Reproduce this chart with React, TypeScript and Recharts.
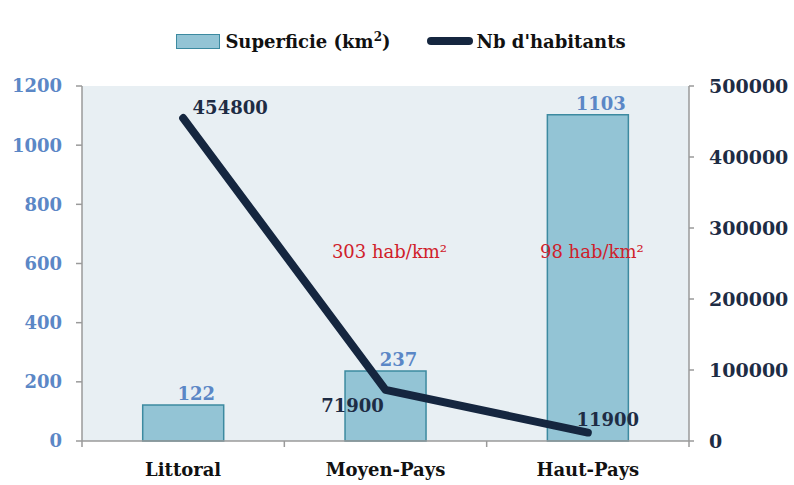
import React from 'react';
import { ComposedChart, Bar, Line, XAxis, YAxis, CartesianGrid, Legend, LabelList, ReferenceDot } from 'recharts';

const categories = ['Littoral', 'Moyen-Pays', 'Haut-Pays'];
const superficie = [122, 237, 1103];
const habitants = [454800, 71900, 11900];
const densityLabels = ['', '303 hab/km²', '98 hab/km²'];
const leftTicks = [0, 200, 400, 600, 800, 1000, 1200];
const rightTicks = [0, 100000, 200000, 300000, 400000, 500000];

const data = categories.map((name, i) => ({
  name,
  superficie: superficie[i],
  habitants: habitants[i],
}));

const FONT = '"DejaVu Serif", serif';
const BAR_FILL = '#93C4D5';
const BAR_STROKE = '#3C8AA0';
const LINE_COLOR = '#15263F';
const BLUE_TEXT = '#5B87C6';
const DARK_TEXT = '#1E2C44';
const AXIS = '#9A9A9A';

// plot is 607px wide, 3 categories
const BAND = 607 / 3;

// offsets of the population labels from their points (Excel placed them by hand)
const lineLabelOffsets = [
  { dx: 47, dy: -9 },
  { dx: -33, dy: 17 },
  { dx: 20, dy: -12 },
];

const CategoryTick = (props: any) => {
  const { x, y, payload, index } = props;
  return (
    <g>
      <line x1={x - BAND / 2} x2={x - BAND / 2} y1={y} y2={y + 6} stroke={AXIS} strokeWidth={1.5} />
      {index === categories.length - 1 && (
        <line x1={x + BAND / 2} x2={x + BAND / 2} y1={y} y2={y + 6} stroke={AXIS} strokeWidth={1.5} />
      )}
      <text x={x} y={y + 35} textAnchor="middle" fontFamily={FONT} fontWeight="bold" fontSize={18} fill="#111">
        {payload.value}
      </text>
    </g>
  );
};

const BarValueLabel = (props: any) => {
  const { x, y, width, value } = props;
  return (
    <text x={x + width / 2 + 13} y={y - 5} textAnchor="middle" fontFamily={FONT} fontWeight="bold" fontSize={18} fill={BLUE_TEXT}>
      {value}
    </text>
  );
};

const LineValueLabel = (props: any) => {
  const { x, y, value, index } = props;
  const off = lineLabelOffsets[index] || { dx: 0, dy: 0 };
  return (
    <text x={x + off.dx} y={y + off.dy} textAnchor="middle" dominantBaseline="middle" fontFamily={FONT} fontWeight="bold" fontSize={18} fill={DARK_TEXT}>
      {value}
    </text>
  );
};

const LegendContent = () => (
  <div style={{ display: 'flex', justifyContent: 'center', alignItems: 'center', fontFamily: FONT, fontWeight: 'bold', fontSize: 18, color: '#111', paddingLeft: 8 }}>
    <div style={{ width: 42, height: 13, background: BAR_FILL, border: `1px solid ${BAR_STROKE}`, marginRight: 5 }} />
    <span>Superficie (km<sup style={{ fontSize: 12 }}>2</sup>)</span>
    <div style={{ width: 46, height: 8, background: LINE_COLOR, borderRadius: 4, marginLeft: 36, marginRight: 4 }} />
    <span>Nb d'habitants</span>
  </div>
);

const App: React.FC = () => {
  return (
    <div style={{ position: 'absolute', left: 0, top: 0, background: '#fff' }}>
      <ComposedChart width={794} height={485} data={data} margin={{ top: 86, right: 0, bottom: 0, left: 0 }} barCategoryGap="30%">
        <CartesianGrid fill="#E8EFF3" stroke="none" horizontal={false} vertical={false} />
        <Legend
          layout="horizontal"
          verticalAlign="middle"
          align="center"
          wrapperStyle={{ top: 30, left: 0, width: 794 }}
          content={<LegendContent />}
        />
        <XAxis
          dataKey="name"
          height={44}
          axisLine={{ stroke: AXIS, strokeWidth: 1.5 }}
          tickLine={false}
          tickSize={0}
          tickMargin={0}
          tick={<CategoryTick />}
        />
        <YAxis
          yAxisId="left"
          width={82}
          domain={[0, 1200]}
          ticks={leftTicks}
          interval={0}
          axisLine={{ stroke: AXIS, strokeWidth: 1.5 }}
          tickLine={{ stroke: AXIS, strokeWidth: 1.5 }}
          tickSize={6}
          tickMargin={14}
          tick={{ fill: BLUE_TEXT, fontFamily: FONT, fontWeight: 'bold', fontSize: 18 }}
        />
        <YAxis
          yAxisId="right"
          orientation="right"
          width={105}
          domain={[0, 500000]}
          ticks={rightTicks}
          interval={0}
          axisLine={{ stroke: AXIS, strokeWidth: 1.5 }}
          tickLine={{ stroke: AXIS, strokeWidth: 1.5 }}
          tickSize={5}
          tickMargin={15}
          tick={{ fill: DARK_TEXT, fontFamily: FONT, fontWeight: 'bold', fontSize: 19 }}
        />
        <Bar
          yAxisId="left"
          dataKey="superficie"
          name="Superficie (km²)"
          fill={BAR_FILL}
          stroke={BAR_STROKE}
          strokeWidth={1.5}
          isAnimationActive={false}
        >
          <LabelList dataKey="superficie" content={<BarValueLabel />} />
        </Bar>
        <Line
          yAxisId="right"
          dataKey="habitants"
          name="Nb d'habitants"
          type="linear"
          stroke={LINE_COLOR}
          strokeWidth={8}
          strokeLinecap="round"
          strokeLinejoin="round"
          dot={false}
          isAnimationActive={false}
        >
          <LabelList dataKey="habitants" content={<LineValueLabel />} />
        </Line>
        {categories.map((c, i) =>
          densityLabels[i] ? (
            <ReferenceDot
              key={c}
              yAxisId="left"
              x={c}
              y={640}
              r={0}
              fill="none"
              stroke="none"
              label={{ value: densityLabels[i], position: 'center', dx: 4, fill: '#D0202A', fontFamily: FONT, fontSize: 18 }}
            />
          ) : null
        )}
      </ComposedChart>
    </div>
  );
};

export default App;
